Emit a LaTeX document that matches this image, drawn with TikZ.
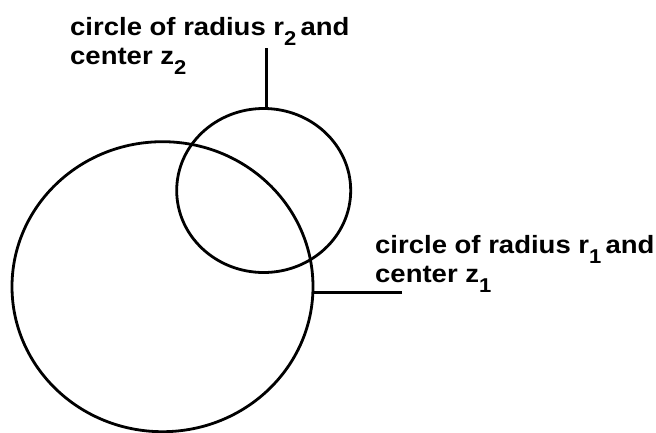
\documentclass[tikz,border=0pt]{standalone}
\usepackage{fontspec}
\setmainfont{Liberation Sans}[FakeStretch=1.1]
\usetikzlibrary{shapes.geometric}
\newcommand\subnum[1]{\raisebox{-10pt}{\fontsize{20}{20}\selectfont #1}}
\begin{document}
\begin{tikzpicture}[x=1pt,y=-1pt,
  ring/.style={draw, ellipse, line width=2.8pt, inner sep=0pt, outer sep=0pt},
  lead/.style={line width=2.8pt},
  lbl/.style={align=left, inner sep=0pt, anchor=north west, font=\bfseries\fontsize{25}{29}\selectfont}]
\useasboundingbox (0,0) rectangle (656,432);
\node[ring, minimum width=301pt, minimum height=290pt] (c1) at (162.5,286.7) {};
\node[ring, minimum width=174pt, minimum height=164pt] (c2) at (263.7,190.5) {};
\node[lbl] (t2) at (70,17) {circle of radius r\subnum{2}\,and\\center z\subnum{2}};
\node[lbl] (t1) at (375,235) {circle of radius r\subnum{1}\,and\\center z\subnum{1}};
\coordinate (e2) at (266.7,48);
\coordinate (e1) at (402,292.7);
\draw[lead] (e2) -- (e2 |- c2.north);
\draw[lead] (e1) -- (c1.east |- e1);
\end{tikzpicture}
\end{document}
